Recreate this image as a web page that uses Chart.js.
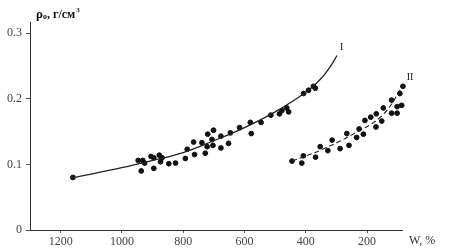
<!DOCTYPE html>
<html>
<head>
<meta charset="utf-8">
<script src="https://cdn.jsdelivr.net/npm/chart.js@4"></script>
<style>
  html, body { margin: 0; padding: 0; background: #fff; }
  #wrap { width: 450px; height: 251px; }
</style>
</head>
<body>
<div id="wrap"><canvas id="rhoChart"></canvas></div>
<script>
// curve I scatter (W, %  /  rho, g/cm3)
const curve1W = [1160, 947, 932, 926, 937, 905, 896, 878, 869, 896, 874, 847, 825, 793, 787, 763, 766,
    739, 728, 720, 701, 706, 722, 703, 677, 677, 652, 646, 616, 581, 578, 546, 514, 486, 478,
    462, 456, 407, 391, 375, 369];
const curve1Rho = [0.080, 0.106, 0.106, 0.102, 0.090, 0.112, 0.110, 0.114, 0.110, 0.094, 0.104, 0.101, 0.102, 0.109, 0.123, 0.115, 0.134,
    0.133, 0.117, 0.146, 0.152, 0.138, 0.127, 0.129, 0.143, 0.125, 0.132, 0.148, 0.156, 0.164, 0.147, 0.164, 0.175, 0.177, 0.182,
    0.186, 0.180, 0.208, 0.213, 0.219, 0.216];

// curve II scatter
const curve2W = [445, 413, 408, 368, 353, 328, 314, 288, 266, 259, 234, 226, 212, 207, 188, 170, 171, 152,
    147, 120, 102, 120, 102, 93, 87, 83, 65];
const curve2Rho = [0.105, 0.102, 0.113, 0.111, 0.127, 0.121, 0.137, 0.124, 0.147, 0.129, 0.141, 0.154, 0.146, 0.167, 0.172, 0.177, 0.157, 0.166,
    0.186, 0.178, 0.178, 0.198, 0.188, 0.208, 0.190, 0.219, 0.198];

// fitted curves
const fit1W = [1165, 1000, 900, 800, 700, 600, 500, 400, 350, 320, 298];
const fit1Rho = [0.079, 0.095, 0.106, 0.118, 0.136, 0.156, 0.180, 0.210, 0.231, 0.249, 0.266];
const fit2W = [445, 350, 250, 150, 80];
const fit2Rho = [0.105, 0.122, 0.145, 0.175, 0.222];

const xTicks = [1200, 1000, 800, 600, 400, 200];
const yTicks = [0, 0.1, 0.2, 0.3];

const toPoints = (xs, ys) => xs.map((x, i) => ({ x: x, y: ys[i] }));

const serif = '"Liberation Serif", "DejaVu Serif", serif';

// axis captions and curve numbers
const captionPlugin = {
    id: 'captions',
    afterDraw(chart) {
        const ctx = chart.ctx;
        const xs = chart.scales.x;
        const ys = chart.scales.y;
        const area = chart.chartArea;
        ctx.save();
        ctx.fillStyle = '#111';
        ctx.textBaseline = 'alphabetic';

        // rho0, g/cm3
        let x = area.left + 6;
        const base = 18;
        ctx.font = 'bold 13px ' + serif;
        ctx.fillText('ρ', x, base);
        x += ctx.measureText('ρ').width;
        ctx.font = 'bold 8px ' + serif;
        ctx.fillText('о', x, base + 1);
        x += ctx.measureText('о').width;
        ctx.font = 'bold 12px ' + serif;
        ctx.fillText(', г/см', x, base);
        x += ctx.measureText(', г/см').width;
        ctx.font = 'bold 7px ' + serif;
        ctx.fillText('3', x + 1, base - 6);

        // W, %
        ctx.font = '12px ' + serif;
        ctx.fillStyle = '#333';
        ctx.fillText('W, %', area.right + 7, 244);

        // curve numbers
        ctx.fillStyle = '#111';
        ctx.font = '10px ' + serif;
        ctx.textAlign = 'center';
        ctx.fillText('I', xs.getPixelForValue(283), ys.getPixelForValue(0.274));
        ctx.fillText('II', xs.getPixelForValue(60), ys.getPixelForValue(0.228));
        ctx.restore();
    }
};

const canvas = document.getElementById('rhoChart');
new Chart(canvas.getContext('2d'), {
    type: 'scatter',
    data: {
        datasets: [
            {
                label: 'fit I',
                data: toPoints(fit1W, fit1Rho),
                showLine: true,
                borderColor: '#222',
                borderWidth: 1.3,
                pointRadius: 0,
                tension: 0.4,
                clip: false
            },
            {
                label: 'fit II',
                data: toPoints(fit2W, fit2Rho),
                showLine: true,
                borderColor: '#222',
                borderWidth: 1.1,
                borderDash: [5, 3],
                pointRadius: 0,
                tension: 0.4,
                clip: false
            },
            {
                label: 'I',
                data: toPoints(curve1W, curve1Rho),
                backgroundColor: '#111',
                borderColor: '#111',
                pointRadius: 2.4,
                clip: false
            },
            {
                label: 'II',
                data: toPoints(curve2W, curve2Rho),
                backgroundColor: '#111',
                borderColor: '#111',
                pointRadius: 2.4,
                clip: false
            }
        ]
    },
    options: {
        responsive: true,
        maintainAspectRatio: false,
        animation: false,
        layout: { padding: { left: 0, top: 22, right: 48, bottom: 0 } },
        plugins: {
            legend: { display: false },
            tooltip: { enabled: false }
        },
        scales: {
            x: {
                type: 'linear',
                reverse: true,
                min: 86,
                max: 1300,
                afterFit: s => { s.height = 21; },
                afterBuildTicks: s => { s.ticks = xTicks.map(v => ({ value: v })); },
                grid: { drawOnChartArea: false, tickLength: 3, color: '#555' },
                border: { color: '#333', width: 1 },
                ticks: {
                    padding: 2,
                    color: '#444',
                    font: { family: serif, size: 12 },
                    callback: v => String(v)
                }
            },
            y: {
                type: 'linear',
                min: 0,
                max: 0.317,
                afterFit: s => { s.width = 30; },
                afterBuildTicks: s => { s.ticks = yTicks.map(v => ({ value: v })); },
                grid: { drawOnChartArea: false, tickLength: 4, color: '#555' },
                border: { color: '#333', width: 1 },
                ticks: {
                    padding: 4,
                    color: '#444',
                    font: { family: serif, size: 12 },
                    callback: v => String(v)
                }
            }
        }
    },
    plugins: [captionPlugin]
});
</script>
</body>
</html>
